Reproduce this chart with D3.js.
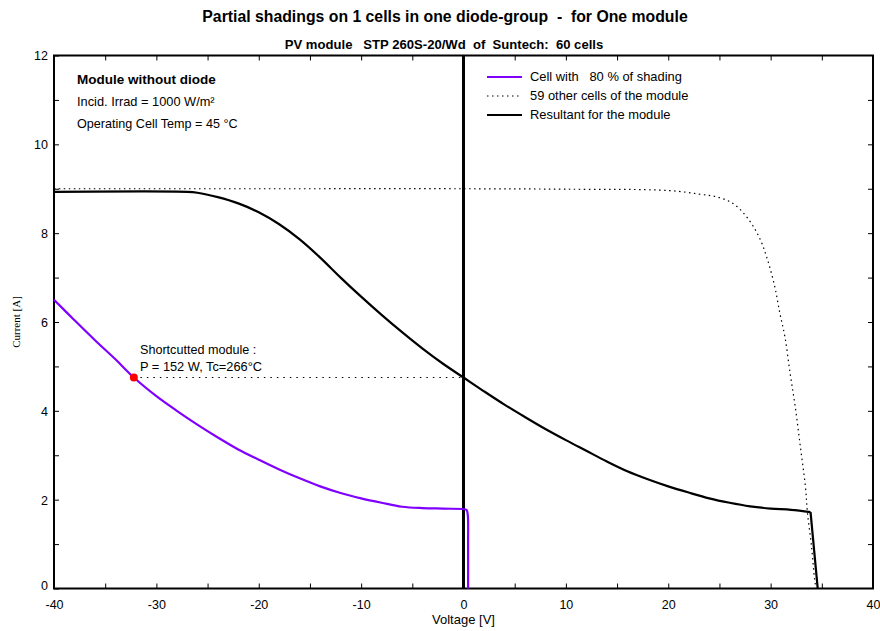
<!DOCTYPE html>
<html><head><meta charset="utf-8">
<script src="https://cdn.jsdelivr.net/npm/d3@7"></script>
<style>
body{margin:0;background:#fff;}
text{font-family:"Liberation Sans",Arial,sans-serif;fill:#000;}
</style></head>
<body><svg id="c" width="880" height="631"></svg>
<script>
// Data
const shadedCellV = [-40,-38,-36,-34,-32.2,-30,-28,-26,-24,-22,-20,-18,-16,-14,-12,-10,-8,-6,-4,-2,0,0.3,0.42,0.45,0.45];
const shadedCellI = [6.5,6.04,5.59,5.16,4.75,4.33,4.0,3.69,3.4,3.13,2.9,2.68,2.48,2.3,2.15,2.03,1.93,1.84,1.81,1.8,1.79,1.77,1.65,1.0,0];
const otherCellsV = [-40,-20,0,10,20,23,25,26.5,28,29,29.7,30.4,30.9,31.4,31.9,32.4,32.9,33.4,33.6,34.0,34.3,34.45];
const otherCellsI = [9.0,9.0,9.0,8.99,8.96,8.88,8.8,8.64,8.26,7.85,7.4,6.8,6.2,5.66,4.85,4.1,3.2,2.29,1.7,0.94,0.2,0];
const resultV = [-40,-27,-26,-24,-22,-20,-18,-16,-14,-12,-10,-8,-6,-4,-2,0,2,4,6,8,10,12,14,16,18,20,22,24,26,28,30,32,33.9,34.6];
const resultI = [8.93,8.93,8.91,8.81,8.67,8.47,8.2,7.86,7.45,7.0,6.57,6.16,5.77,5.4,5.06,4.75,4.44,4.14,3.86,3.59,3.34,3.1,2.86,2.64,2.46,2.3,2.16,2.03,1.93,1.85,1.8,1.77,1.72,0];
const shortPoint = {v:-32.2, i:4.75};
const xTicks = [-40,-30,-20,-10,0,10,20,30,40];
const yTicks = [0,2,4,6,8,10,12];
const legendLabels = ["Cell with   80 % of shading","59 other cells of the module","Resultant for the module"];

const svg = d3.select("#c");
const L=54,R=873,T=55.5,B=588.5;
const x = d3.scaleLinear().domain([-40,40]).range([L,R]);
const y = d3.scaleLinear().domain([0,12]).range([B,T]);

// titles
svg.append("text").attr("x",445).attr("y",22).attr("text-anchor","middle").attr("font-size",15.8).attr("font-weight","bold").style("white-space","pre").text("Partial shadings on 1 cells in one diode-group  -  for One module");
svg.append("text").attr("x",444).attr("y",49).attr("text-anchor","middle").attr("font-size",13.1).attr("font-weight","bold").style("white-space","pre").text("PV module   STP 260S-20/Wd  of  Suntech:  60 cells");

// axes (ticks inward)
const gB = svg.append("g").attr("transform",`translate(0,${B})`)
  .call(d3.axisBottom(x).tickValues(d3.range(-40,41,5)).tickSize(-5).tickFormat(d=>xTicks.includes(d)?d:""));
const gT = svg.append("g").attr("transform",`translate(0,${T})`)
  .call(d3.axisTop(x).tickValues(d3.range(-35,40,5)).tickSize(-5).tickFormat(""));
const gL = svg.append("g").attr("transform",`translate(${L},0)`)
  .call(d3.axisLeft(y).tickValues(d3.range(0,13,1)).tickSize(-5).tickFormat(d=>yTicks.includes(d)?d:""));
const gR = svg.append("g").attr("transform",`translate(${R},0)`)
  .call(d3.axisRight(y).tickValues(d3.range(1,12,1)).tickSize(-5).tickFormat(""));
[gB,gT,gL,gR].forEach(g=>{g.select(".domain").remove();g.selectAll("line").attr("stroke","#000").attr("stroke-width",1);});
gB.selectAll("text").attr("font-size",12.5).attr("dy","0").attr("y",20);
gL.selectAll("text").attr("font-size",12.5).attr("x",-6).attr("dy","0.35em");
gL.selectAll(".tick").filter(d=>d===0).select("text").attr("dy","0.1em");

svg.append("rect").attr("x",L).attr("y",T).attr("width",R-L).attr("height",B-T).attr("fill","none").attr("stroke","#000").attr("stroke-width",2);

// axis labels
svg.append("text").attr("x",x(0)).attr("y",624).attr("text-anchor","middle").attr("font-size",13).text("Voltage [V]");
svg.append("text").attr("transform","translate(20,322) rotate(-90)").attr("text-anchor","middle").attr("font-size",11).style("font-family","'Liberation Serif',serif").text("Current [A]");

// vertical line at 0
svg.append("line").attr("x1",x(0)).attr("x2",x(0)).attr("y1",T).attr("y2",B).attr("stroke","#000").attr("stroke-width",3);

const smooth = d3.line().x(d=>x(d[0])).y(d=>y(d[1])).curve(d3.curveCatmullRom.alpha(0.5));
const straight = d3.line().x(d=>x(d[0])).y(d=>y(d[1]));

const other = otherCellsV.map((v,k)=>[v,otherCellsI[k]]);
svg.append("path").datum(other).attr("d",smooth).attr("fill","none").attr("stroke","#000").attr("stroke-width",1.2).attr("stroke-dasharray","1.5,3.5");

const res = resultV.map((v,k)=>[v,resultI[k]]);
const nr = res.length;
svg.append("path").datum(res.slice(0,nr-1)).attr("d",smooth).attr("fill","none").attr("stroke","#000").attr("stroke-width",2.2);
svg.append("path").datum(res.slice(nr-2)).attr("d",straight).attr("fill","none").attr("stroke","#000").attr("stroke-width",2.2);

const sh = shadedCellV.map((v,k)=>[v,shadedCellI[k]]);
const iz = shadedCellV.indexOf(0);
svg.append("path").datum(sh.slice(0,iz+1)).attr("d",smooth).attr("fill","none").attr("stroke","#8000ff").attr("stroke-width",2.2);
svg.append("path").datum(sh.slice(iz)).attr("d",smooth).attr("fill","none").attr("stroke","#8000ff").attr("stroke-width",2.2);

// short-circuit dotted line + point
svg.append("line").attr("x1",x(shortPoint.v)).attr("x2",x(0)).attr("y1",y(shortPoint.i)).attr("y2",y(shortPoint.i)).attr("stroke","#000").attr("stroke-width",1.2).attr("stroke-dasharray","1.5,5");
svg.append("circle").attr("cx",x(shortPoint.v)).attr("cy",y(shortPoint.i)).attr("r",4).attr("fill","#ff0000");
svg.append("text").attr("x",140).attr("y",354).attr("font-size",12.6).text("Shortcutted module :");
svg.append("text").attr("x",140).attr("y",371).attr("font-size",12.8).text("P = 152 W, Tc=266°C");

// annotation
svg.append("text").attr("x",77).attr("y",84).attr("font-size",13.5).attr("font-weight","bold").text("Module without diode");
svg.append("text").attr("x",77).attr("y",106).attr("font-size",12.8).text("Incid. Irrad = 1000 W/m²");
svg.append("text").attr("x",77).attr("y",128).attr("font-size",12.6).text("Operating Cell Temp = 45 °C");

// legend
const lg = [{c:"#8000ff",d:null,w:2.2},{c:"#000",d:"1.5,3.5",w:1.2},{c:"#000",d:null,w:2.2}];
legendLabels.forEach((t,k)=>{
  const yy = 77+k*19;
  svg.append("line").attr("x1",487).attr("x2",522).attr("y1",yy).attr("y2",yy).attr("stroke",lg[k].c).attr("stroke-width",lg[k].w).attr("stroke-dasharray",lg[k].d);
  svg.append("text").attr("x",530).attr("y",yy+4).attr("font-size",12.9).style("white-space","pre").text(t);
});
</script></body></html>
